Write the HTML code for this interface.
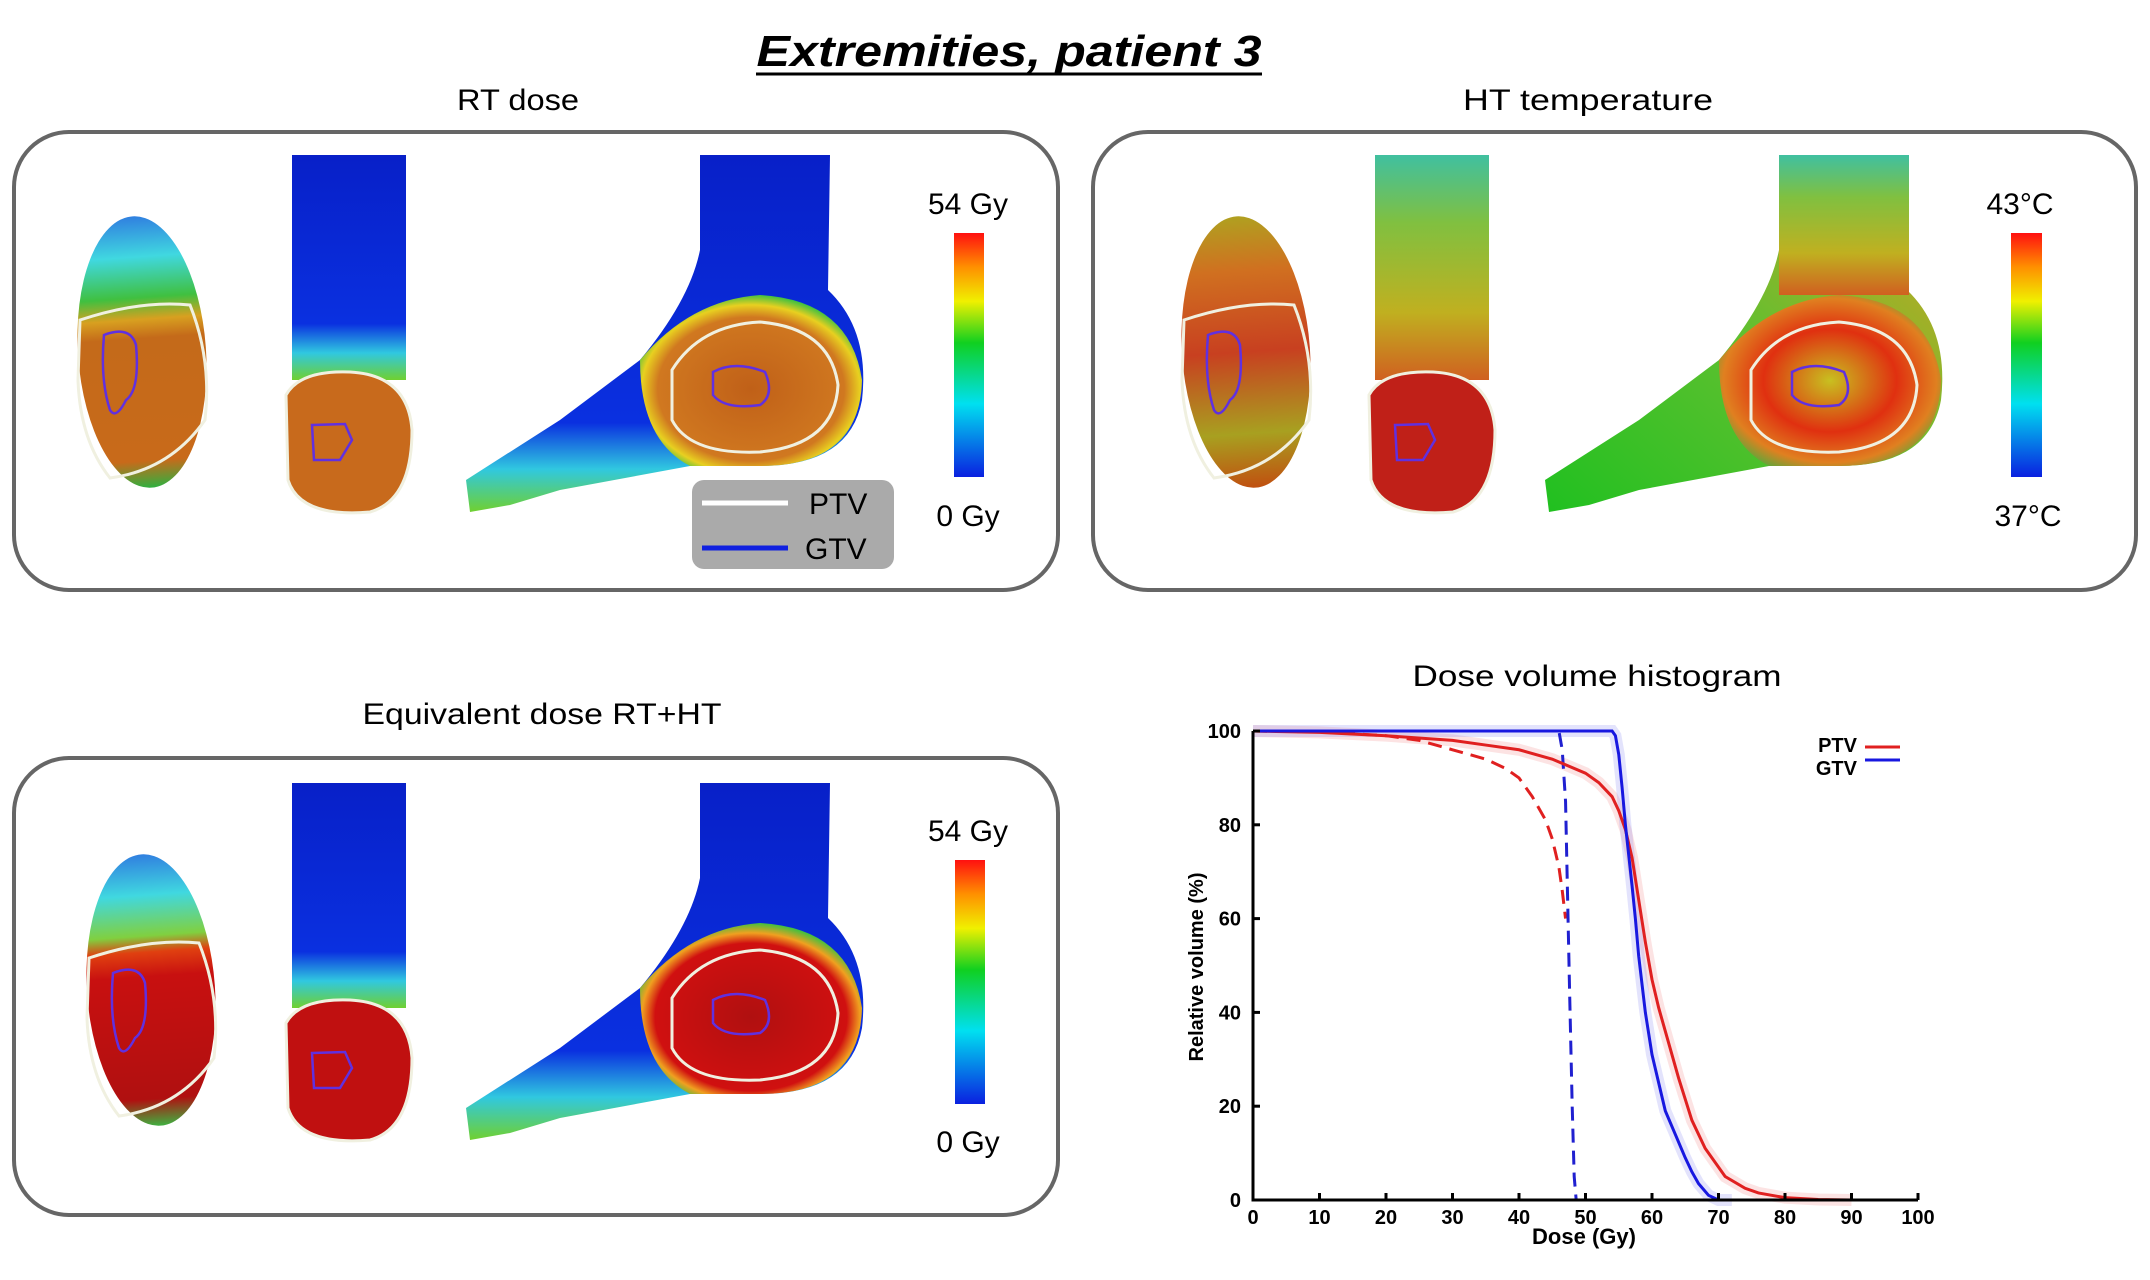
<!DOCTYPE html>
<html><head><meta charset="utf-8"><style>
body{margin:0;background:#fff}
svg text{font-family:"Liberation Sans",sans-serif}
</style></head><body>
<svg width="2150" height="1275" viewBox="0 0 2150 1275" xmlns="http://www.w3.org/2000/svg">
<defs>
 <linearGradient id="cbar" x1="0" y1="1" x2="0" y2="0">
  <stop offset="0" stop-color="#0a20e0"/><stop offset="0.3" stop-color="#00e0f0"/><stop offset="0.55" stop-color="#10d020"/><stop offset="0.72" stop-color="#f0f000"/><stop offset="0.86" stop-color="#ff9000"/><stop offset="1" stop-color="#ff1010"/>
 </linearGradient>
 <linearGradient id="sole1" x1="0" y1="0" x2="0" y2="1"><stop offset="0" stop-color="#3080e0"/><stop offset="0.15" stop-color="#40d8e0"/><stop offset="0.3" stop-color="#40c040"/><stop offset="0.38" stop-color="#d8a020"/><stop offset="0.45" stop-color="#c46a1a"/><stop offset="0.9" stop-color="#c86a1a"/><stop offset="1" stop-color="#30b040"/></linearGradient>
 <linearGradient id="leg1" x1="0" y1="0" x2="0" y2="1"><stop offset="0" stop-color="#0820c8"/><stop offset="0.75" stop-color="#0a30e0"/><stop offset="0.88" stop-color="#30c8e0"/><stop offset="1" stop-color="#70d030"/></linearGradient>
 <radialGradient id="heel1" cx="0.5" cy="0.55" r="0.6"><stop offset="0" stop-color="#c06018"/><stop offset="0.7" stop-color="#d07820"/><stop offset="0.82" stop-color="#e8d020"/><stop offset="0.92" stop-color="#40c040"/><stop offset="1" stop-color="#30c0d0"/></radialGradient>
 <linearGradient id="sole2" x1="0" y1="0" x2="0" y2="1"><stop offset="0" stop-color="#b0a020"/><stop offset="0.2" stop-color="#d07020"/><stop offset="0.5" stop-color="#c84020"/><stop offset="0.8" stop-color="#a8a020"/><stop offset="1" stop-color="#c05010"/></linearGradient>
 <linearGradient id="leg2" x1="0" y1="0" x2="0" y2="1"><stop offset="0" stop-color="#40c0a0"/><stop offset="0.3" stop-color="#80c040"/><stop offset="0.7" stop-color="#c0b020"/><stop offset="1" stop-color="#d06020"/></linearGradient>
 <radialGradient id="heel2" cx="0.5" cy="0.5" r="0.6"><stop offset="0" stop-color="#c8c020"/><stop offset="0.5" stop-color="#e03010"/><stop offset="0.8" stop-color="#e08020"/><stop offset="1" stop-color="#40b040"/></radialGradient>
 <linearGradient id="toe2" x1="1" y1="0" x2="0" y2="1"><stop offset="0" stop-color="#e0a020"/><stop offset="0.5" stop-color="#60c030"/><stop offset="1" stop-color="#20c020"/></linearGradient>
 <linearGradient id="sole3" x1="0" y1="0" x2="0" y2="1"><stop offset="0" stop-color="#3080e0"/><stop offset="0.15" stop-color="#40d8e0"/><stop offset="0.3" stop-color="#80d040"/><stop offset="0.36" stop-color="#e04010"/><stop offset="0.45" stop-color="#c81010"/><stop offset="0.9" stop-color="#b01010"/><stop offset="1" stop-color="#40b040"/></linearGradient>
 <radialGradient id="heel3" cx="0.5" cy="0.55" r="0.6"><stop offset="0" stop-color="#b01010"/><stop offset="0.72" stop-color="#d01010"/><stop offset="0.82" stop-color="#f0a020"/><stop offset="0.92" stop-color="#40c040"/><stop offset="1" stop-color="#30c0d0"/></radialGradient>
</defs>

<text x="1009" y="66" text-anchor="middle" font-size="44" font-weight="bold" font-style="italic" textLength="505" lengthAdjust="spacingAndGlyphs">Extremities, patient 3</text>
<line x1="756" y1="74" x2="1262" y2="74" stroke="#000" stroke-width="3"/>

<text x="518" y="110" text-anchor="middle" font-size="30" textLength="122" lengthAdjust="spacingAndGlyphs">RT dose</text>
<text x="1588" y="110" text-anchor="middle" font-size="30" textLength="250" lengthAdjust="spacingAndGlyphs">HT temperature</text>
<text x="542" y="724" text-anchor="middle" font-size="30" textLength="359" lengthAdjust="spacingAndGlyphs">Equivalent dose RT+HT</text>

<g>
 <rect x="14" y="132" width="1044" height="458" rx="55" fill="#fff" stroke="#666" stroke-width="4"/>
 <g>
  <ellipse cx="142" cy="352" rx="64" ry="136" transform="rotate(-4 142 352)" fill="url(#sole1)"/>
  <path d="M80,320 Q140,300 190,305 Q212,360 205,420 Q170,470 110,478 Q80,440 78,380 Z" fill="none" stroke="#f0f0e0" stroke-width="3"/>
  <path d="M104,335 Q130,325 136,345 Q140,390 126,400 Q116,420 110,410 Q100,380 104,335 Z" fill="none" stroke="#6030e0" stroke-width="2.5"/>
 </g>
 <g>
  <rect x="292" y="155" width="114" height="225" fill="url(#leg1)"/>
  <path d="M286,395 Q300,370 350,372 Q408,375 412,430 Q412,500 370,512 Q300,518 288,480 Z" fill="#c86a1c" stroke="#f0f0e0" stroke-width="3"/>
  <path d="M312,425 L345,424 L352,440 L340,460 L314,460 Z" fill="none" stroke="#6030e0" stroke-width="2.5"/>
 </g>
 <g>
  <path d="M700,155 L830,155 L828,290 Q870,330 862,400 Q850,466 760,466 L690,466 L560,490 L510,505 L470,512 L466,480 L560,420 L640,360 Q690,300 700,250 Z" fill="url(#leg1)"/>
  <path d="M640,360 Q690,300 760,295 Q850,300 862,380 Q860,466 760,466 L690,466 Q640,440 640,360 Z" fill="url(#heel1)"/>
  <path d="M672,370 Q700,325 760,322 Q830,328 838,385 Q835,445 760,452 Q690,455 672,420 Z" fill="none" stroke="#f0f0e0" stroke-width="3"/>
  <path d="M713,372 Q735,360 765,372 Q775,395 760,405 Q725,410 713,395 Z" fill="none" stroke="#6030e0" stroke-width="2.5"/>
 </g>
 <rect x="954" y="233" width="30" height="244" fill="url(#cbar)"/>
 <text x="968" y="214" text-anchor="middle" font-size="30">54 Gy</text>
 <text x="968" y="526" text-anchor="middle" font-size="30">0 Gy</text>
 <g>
  <rect x="692" y="480" width="202" height="89" rx="12" fill="#aaa"/>
  <line x1="702" y1="503" x2="788" y2="503" stroke="#fff" stroke-width="5"/>
  <line x1="702" y1="548" x2="788" y2="548" stroke="#1020e0" stroke-width="5"/>
  <text x="809" y="514" font-size="30">PTV</text>
  <text x="805" y="559" font-size="30">GTV</text>
 </g>
</g>

<g>
 <rect x="1093" y="132" width="1043" height="458" rx="55" fill="#fff" stroke="#666" stroke-width="4"/>
 <g transform="translate(1104,0)">
  <ellipse cx="142" cy="352" rx="64" ry="136" transform="rotate(-4 142 352)" fill="url(#sole2)"/>
  <path d="M80,320 Q140,300 190,305 Q212,360 205,420 Q170,470 110,478 Q80,440 78,380 Z" fill="none" stroke="#f0f0e0" stroke-width="3"/>
  <path d="M104,335 Q130,325 136,345 Q140,390 126,400 Q116,420 110,410 Q100,380 104,335 Z" fill="none" stroke="#6030e0" stroke-width="2.5"/>
 </g>
 <g transform="translate(1083,0)">
  <rect x="292" y="155" width="114" height="225" fill="url(#leg2)"/>
  <path d="M286,395 Q300,370 350,372 Q408,375 412,430 Q412,500 370,512 Q300,518 288,480 Z" fill="#c02018" stroke="#f0f0e0" stroke-width="3"/>
  <path d="M312,425 L345,424 L352,440 L340,460 L314,460 Z" fill="none" stroke="#6030e0" stroke-width="2.5"/>
 </g>
 <g transform="translate(1079,0)">
  <path d="M700,155 L830,155 L828,290 Q870,330 862,400 Q850,466 760,466 L690,466 L560,490 L510,505 L470,512 L466,480 L560,420 L640,360 Q690,300 700,250 Z" fill="url(#toe2)"/>
  <rect x="700" y="155" width="130" height="140" fill="url(#leg2)"/>
  <path d="M640,360 Q690,300 760,295 Q850,300 862,380 Q860,466 760,466 L690,466 Q640,440 640,360 Z" fill="url(#heel2)"/>
  <path d="M672,370 Q700,325 760,322 Q830,328 838,385 Q835,445 760,452 Q690,455 672,420 Z" fill="none" stroke="#f0f0e0" stroke-width="3"/>
  <path d="M713,372 Q735,360 765,372 Q775,395 760,405 Q725,410 713,395 Z" fill="none" stroke="#6030e0" stroke-width="2.5"/>
 </g>
 <rect x="2011" y="233" width="31" height="244" fill="url(#cbar)"/>
 <text x="2020" y="214" text-anchor="middle" font-size="30">43°C</text>
 <text x="2028" y="526" text-anchor="middle" font-size="30">37°C</text>
</g>

<g>
 <rect x="14" y="758" width="1044" height="457" rx="55" fill="#fff" stroke="#666" stroke-width="4"/>
 <g transform="translate(9,638)">
  <ellipse cx="142" cy="352" rx="64" ry="136" transform="rotate(-4 142 352)" fill="url(#sole3)"/>
  <path d="M80,320 Q140,300 190,305 Q212,360 205,420 Q170,470 110,478 Q80,440 78,380 Z" fill="none" stroke="#f0f0e0" stroke-width="3"/>
  <path d="M104,335 Q130,325 136,345 Q140,390 126,400 Q116,420 110,410 Q100,380 104,335 Z" fill="none" stroke="#6030e0" stroke-width="2.5"/>
 </g>
 <g transform="translate(0,628)">
  <rect x="292" y="155" width="114" height="225" fill="url(#leg1)"/>
  <path d="M286,395 Q300,370 350,372 Q408,375 412,430 Q412,500 370,512 Q300,518 288,480 Z" fill="#c01010" stroke="#f0f0e0" stroke-width="3"/>
  <path d="M312,425 L345,424 L352,440 L340,460 L314,460 Z" fill="none" stroke="#6030e0" stroke-width="2.5"/>
 </g>
 <g transform="translate(0,628)">
  <path d="M700,155 L830,155 L828,290 Q870,330 862,400 Q850,466 760,466 L690,466 L560,490 L510,505 L470,512 L466,480 L560,420 L640,360 Q690,300 700,250 Z" fill="url(#leg1)"/>
  <path d="M640,360 Q690,300 760,295 Q850,300 862,380 Q860,466 760,466 L690,466 Q640,440 640,360 Z" fill="url(#heel3)"/>
  <path d="M672,370 Q700,325 760,322 Q830,328 838,385 Q835,445 760,452 Q690,455 672,420 Z" fill="none" stroke="#f0f0e0" stroke-width="3"/>
  <path d="M713,372 Q735,360 765,372 Q775,395 760,405 Q725,410 713,395 Z" fill="none" stroke="#6030e0" stroke-width="2.5"/>
 </g>
 <rect x="955" y="860" width="30" height="244" fill="url(#cbar)"/>
 <text x="968" y="841" text-anchor="middle" font-size="30">54 Gy</text>
 <text x="968" y="1152" text-anchor="middle" font-size="30">0 Gy</text>
</g>

<text x="1597" y="686" text-anchor="middle" font-size="30" textLength="369" lengthAdjust="spacingAndGlyphs">Dose volume histogram</text>
<g id="dvh"></g>
</svg>
<script>
const xTicks=[0,10,20,30,40,50,60,70,80,90,100];
const yTicks=[0,20,40,60,80,100];
const ptvDose=[0,10,20,30,35,40,45,50,52,54,55,56,57,58,59,60,61,62,64,66,68,71,74,76,80,85,90];
const ptvVol=[100,99.7,99,98,97,96,94,91,89,86,83,79,73,64,55,47,41,36,26,17,11,5,2.5,1.5,0.5,0.1,0];
const gtvDose=[0,20,40,54,54.5,55,55.5,56,57,57.5,58,59,60,61,62,63.5,65,66,67,68.5,70,72];
const gtvVol=[100,100,100,100,99,95,88,80,67,60,52,40,31,25,19,14,9,6,3.5,1,0,0];
const ptvDoseRT=[0,10,20,25,30,35,38,40,42,44,45,46,46.5,47];
const ptvVolRT=[100,99.8,99,98,96,94,92,90,86,81,77,71,66,60];
const gtvDoseRT=[0,20,44,46,46.5,47,47.3,47.6,48,48.3,48.6];
const gtvVolRT=[100,100,100,100,96,85,65,45,20,5,0];
const X0=1253,X1=1918,Y0=1200,Y1=731;
const sx=d=>X0+(X1-X0)*d/100, sy=v=>Y0-(Y0-Y1)*v/100;
const g=document.getElementById('dvh'), NS='http://www.w3.org/2000/svg';
function mk(t,a){const e=document.createElementNS(NS,t);for(const k in a)e.setAttribute(k,a[k]);g.appendChild(e);return e;}
function pts(xs,ys){return xs.map((x,i)=>sx(x)+','+sy(ys[i])).join(' ');}
let b1=mk('polyline',{points:pts(ptvDose,ptvVol),fill:'none',stroke:'#f08080','stroke-width':12,'stroke-opacity':0.22});


let b2=mk('polyline',{points:pts(gtvDose,gtvVol),fill:'none',stroke:'#8080f0','stroke-width':12,'stroke-opacity':0.22});


let l1=mk('polyline',{points:pts(ptvDoseRT,ptvVolRT),fill:'none',stroke:'#e02020','stroke-width':3,'stroke-dasharray':'14 8'});


let l2=mk('polyline',{points:pts(gtvDoseRT,gtvVolRT),fill:'none',stroke:'#2020d0','stroke-width':3,'stroke-dasharray':'14 8'});


let l3=mk('polyline',{points:pts(ptvDose,ptvVol),fill:'none',stroke:'#e02020','stroke-width':3});


let l4=mk('polyline',{points:pts(gtvDose,gtvVol),fill:'none',stroke:'#1818e0','stroke-width':3});


let ax=mk('path',{d:`M${X0},${Y1} L${X0},${Y0} L${X1},${Y0}`,fill:'none',stroke:'#000','stroke-width':3});


xTicks.forEach(t=>{
 let tk=mk('line',{x1:sx(t),x2:sx(t),y1:Y0,y2:Y0-7,stroke:'#000','stroke-width':3});
 
 
 let tl=mk('text',{x:sx(t),y:Y0+24,'text-anchor':'middle','font-size':20,'font-weight':'bold'});
 tl.textContent=t;
 
 
});
yTicks.forEach(t=>{
 let tk=mk('line',{x1:X0,x2:X0+7,y1:sy(t),y2:sy(t),stroke:'#000','stroke-width':3});
 
 
 let tl=mk('text',{x:X0-12,y:sy(t)+7,'text-anchor':'end','font-size':20,'font-weight':'bold'});
 tl.textContent=t;
 
 
});
let xl=mk('text',{x:1584,y:Y0+44,'text-anchor':'middle','font-size':22,'font-weight':'bold'});
xl.textContent='Dose (Gy)';


let yl=mk('text',{x:0,y:0,'text-anchor':'middle','font-size':20,'font-weight':'bold',transform:'translate(1203,967) rotate(-90)'});
yl.textContent='Relative volume (%)';


let lg1=mk('text',{x:1857,y:752,'text-anchor':'end','font-size':20,'font-weight':'bold'});
lg1.textContent='PTV';


let lg2=mk('text',{x:1857,y:775,'text-anchor':'end','font-size':20,'font-weight':'bold'});
lg2.textContent='GTV';


let lk1=mk('line',{x1:1865,x2:1900,y1:747,y2:747,stroke:'#e02020','stroke-width':3});


let lk2=mk('line',{x1:1865,x2:1900,y1:760,y2:760,stroke:'#1818e0','stroke-width':3});


</script>
</body></html>
